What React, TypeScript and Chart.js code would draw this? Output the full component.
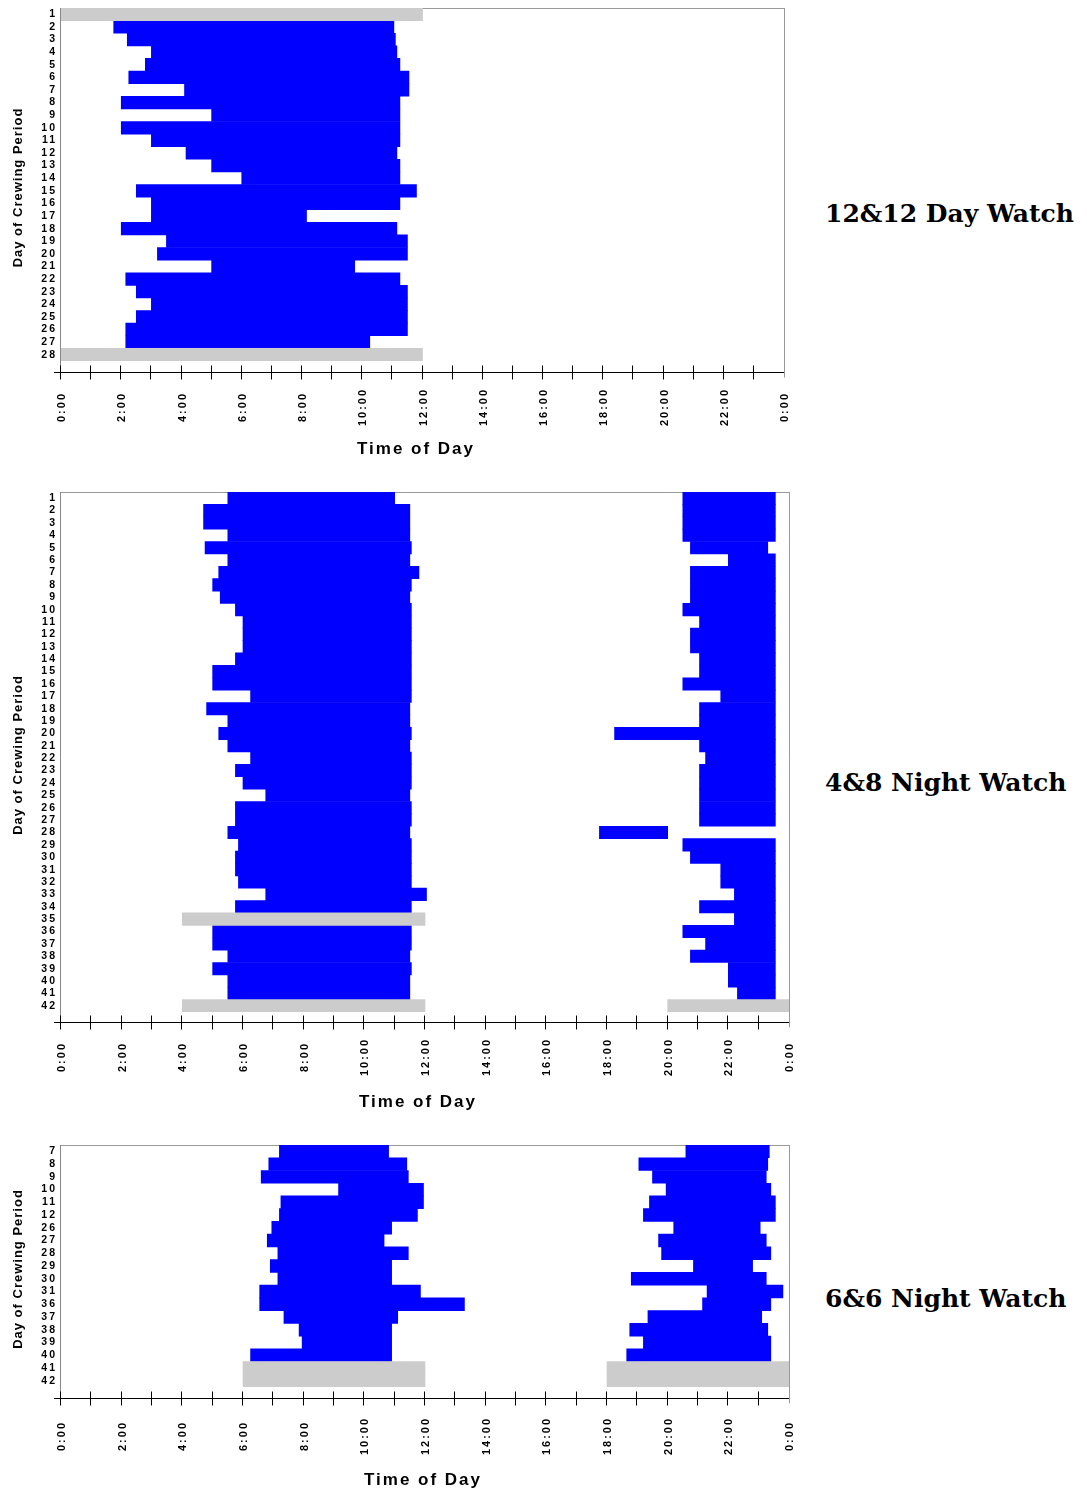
import React, { useEffect, useRef } from "react";
import { Chart, registerables } from "chart.js";

Chart.register(...registerables);

// ---------- shared time axis ----------
const hourTickLabels = ["0:00", "2:00", "4:00", "6:00", "8:00", "10:00", "12:00", "14:00", "16:00", "18:00", "20:00", "22:00", "0:00"];
const HOURS_PER_LABEL = 2;
const crewDayTitle = "Day of Crewing Period";
const timeTitle = "Time of Day";

// ---------- 12&12 Day Watch ----------
const dayRows = ["1", "2", "3", "4", "5", "6", "7", "8", "9", "10", "11", "12", "13", "14", "15", "16", "17", "18", "19", "20", "21", "22", "23", "24", "25", "26", "27", "28"];
const dayOnStart = [null, 1.75, 2.2, 3.0, 2.8, 2.25, 4.1, 2.0, 5.0, 2.0, 3.0, 4.15, 5.0, 6.0, 2.5, 3.0, 3.0, 2.0, 3.5, 3.2, 5.0, 2.15, 2.5, 3.0, 2.5, 2.15, 2.15, null];
const dayOnEnd = [null, 11.05, 11.1, 11.15, 11.25, 11.55, 11.55, 11.25, 11.25, 11.25, 11.25, 11.15, 11.25, 11.25, 11.8, 11.25, 8.15, 11.15, 11.5, 11.5, 9.75, 11.25, 11.5, 11.5, 11.5, 11.5, 10.25, null];
const dayNoRecordRows = ["1", "28"];
const dayNoRecordSpan: [number, number] = [0, 12];

// ---------- 4&8 Night Watch ----------
const n48Rows = ["1", "2", "3", "4", "5", "6", "7", "8", "9", "10", "11", "12", "13", "14", "15", "16", "17", "18", "19", "20", "21", "22", "23", "24", "25", "26", "27", "28", "29", "30", "31", "32", "33", "34", "35", "36", "37", "38", "39", "40", "41", "42"];
const n48AmStart = [5.5, 4.7, 4.7, 5.5, 4.75, 5.5, 5.2, 5.0, 5.25, 5.75, 6.0, 6.0, 6.0, 5.75, 5.0, 5.0, 6.25, 4.8, 5.5, 5.2, 5.5, 6.25, 5.75, 6.0, 6.75, 5.75, 5.75, 5.5, 5.85, 5.75, 5.75, 5.85, 6.75, 5.75, null, 5.0, 5.0, 5.5, 5.0, 5.5, 5.5, null];
const n48AmEnd = [11.0, 11.5, 11.5, 11.5, 11.55, 11.5, 11.8, 11.55, 11.5, 11.55, 11.55, 11.55, 11.55, 11.55, 11.55, 11.55, 11.55, 11.5, 11.5, 11.55, 11.5, 11.55, 11.55, 11.55, 11.5, 11.55, 11.55, 11.5, 11.55, 11.55, 11.55, 11.55, 12.05, 11.55, null, 11.55, 11.55, 11.5, 11.55, 11.5, 11.5, null];
const n48PmStart = [20.5, 20.5, 20.5, 20.5, 20.75, 22.0, 20.75, 20.75, 20.75, 20.5, 21.05, 20.75, 20.75, 21.05, 21.05, 20.5, 21.75, 21.05, 21.05, 18.25, 21.05, 21.25, 21.05, 21.05, 21.05, 21.05, 21.05, 17.75, 20.5, 20.75, 21.75, 21.75, 22.2, 21.05, 22.2, 20.5, 21.25, 20.75, 22.0, 22.0, 22.3, null];
const n48PmEnd = [23.55, 23.55, 23.55, 23.55, 23.3, 23.55, 23.55, 23.55, 23.55, 23.55, 23.55, 23.55, 23.55, 23.55, 23.55, 23.55, 23.55, 23.55, 23.55, 23.55, 23.55, 23.55, 23.55, 23.55, 23.55, 23.55, 23.55, 20.0, 23.55, 23.55, 23.55, 23.55, 23.55, 23.55, 23.55, 23.55, 23.55, 23.55, 23.55, 23.55, 23.55, null];
const n48NoRecordAmRows = ["35", "42"];
const n48NoRecordAmSpan: [number, number] = [4, 12];
const n48NoRecordPmRows = ["42"];
const n48NoRecordPmSpan: [number, number] = [20, 24];

// ---------- 6&6 Night Watch ----------
const n66Rows = ["7", "8", "9", "10", "11", "12", "26", "27", "28", "29", "30", "31", "36", "37", "38", "39", "40", "41", "42"];
const n66AmStart = [7.2, 6.85, 6.6, 9.15, 7.25, 7.2, 6.95, 6.8, 7.15, 6.9, 7.15, 6.55, 6.55, 7.35, 7.85, 7.95, 6.25, null, null];
const n66AmEnd = [10.8, 11.4, 11.45, 11.95, 11.95, 11.75, 10.9, 10.65, 11.45, 10.9, 10.9, 11.85, 13.3, 11.1, 10.9, 10.9, 10.9, null, null];
const n66PmStart = [20.6, 19.05, 19.5, 19.95, 19.4, 19.2, 20.2, 19.7, 19.8, 20.85, 18.8, 21.3, 21.15, 19.35, 18.75, 19.2, 18.65, null, null];
const n66PmEnd = [23.35, 23.3, 23.25, 23.4, 23.55, 23.55, 23.05, 23.25, 23.4, 22.8, 23.25, 23.8, 23.4, 23.1, 23.3, 23.4, 23.4, null, null];
const n66NoRecordRows = ["41", "42"];
const n66NoRecordAmSpan: [number, number] = [6, 12];
const n66NoRecordPmSpan: [number, number] = [18, 24];

const panelTitles = ["12&12 Day Watch", "4&8 Night Watch", "6&6 Night Watch"];

// ---------- helpers ----------
type Cell = [number, number] | null;

function spans(starts: (number | null)[], ends: (number | null)[]): Cell[] {
  return starts.map((s, i) => (s == null || ends[i] == null ? null : [s, ends[i] as number]));
}

function shaded(rows: string[], marked: string[], span: [number, number]): Cell[] {
  return rows.map((r) => (marked.includes(r) ? span : null));
}

const BLUE = "#0000ff";
const GREY = "#cccccc";
const SANS = '"Liberation Sans", Arial, sans-serif';

interface PanelLayout {
  top: number;
  width: number;
  height: number;
  padTop: number;
  padRight: number;
  xAxisHeight: number;
  axisGap: number;
  labelGap: number;
  titleGap: number;
  titleX: number;
}

interface PanelSpec {
  rows: string[];
  blue: Cell[][];
  grey: Cell[][];
  layout: PanelLayout;
}

const panels: PanelSpec[] = [
  {
    rows: dayRows,
    blue: [spans(dayOnStart, dayOnEnd)],
    grey: [shaded(dayRows, dayNoRecordRows, dayNoRecordSpan)],
    layout: { top: -4, width: 800, height: 465, padTop: 12, padRight: 16, xAxisHeight: 100, axisGap: 11, labelGap: 46, titleGap: 88, titleX: 416 },
  },
  {
    rows: n48Rows,
    blue: [spans(n48AmStart, n48AmEnd), spans(n48PmStart, n48PmEnd)],
    grey: [shaded(n48Rows, n48NoRecordAmRows, n48NoRecordAmSpan), shaded(n48Rows, n48NoRecordPmRows, n48NoRecordPmSpan)],
    layout: { top: 480, width: 810, height: 632, padTop: 12, padRight: 21, xAxisHeight: 100, axisGap: 10, labelGap: 45, titleGap: 90, titleX: 418 },
  },
  {
    rows: n66Rows,
    blue: [spans(n66AmStart, n66AmEnd), spans(n66PmStart, n66PmEnd)],
    grey: [shaded(n66Rows, n66NoRecordRows, n66NoRecordAmSpan), shaded(n66Rows, n66NoRecordRows, n66NoRecordPmSpan)],
    layout: { top: 1133, width: 810, height: 357, padTop: 12, padRight: 21, xAxisHeight: 103, axisGap: 11, labelGap: 49, titleGap: 93, titleX: 423 },
  },
];

function makeAxesPlugin(L: PanelLayout) {
  return {
    id: "watchAxes",
    beforeDraw(chart: any) {
      chart.ctx.letterSpacing = "2px";
    },
    beforeDatasetsDraw(chart: any) {
      const { ctx, chartArea: a } = chart;
      const axisY = Math.round(a.bottom + L.axisGap) + 0.5;
      ctx.save();
      ctx.lineWidth = 1;
      ctx.strokeStyle = "#999999";
      ctx.beginPath();
      ctx.moveTo(a.left, Math.round(a.top) + 0.5);
      ctx.lineTo(a.right, Math.round(a.top) + 0.5);
      ctx.moveTo(Math.round(a.right) + 0.5, a.top);
      ctx.lineTo(Math.round(a.right) + 0.5, axisY + 5);
      ctx.stroke();
      ctx.strokeStyle = "#888888";
      ctx.beginPath();
      ctx.moveTo(Math.round(a.left) - 0.5, a.top);
      ctx.lineTo(Math.round(a.left) - 0.5, axisY);
      ctx.stroke();
      ctx.restore();
    },
    afterDraw(chart: any) {
      const { ctx, chartArea: a } = chart;
      const x = chart.scales.x;
      const axisY = Math.round(a.bottom + L.axisGap) + 0.5;
      ctx.save();
      ctx.lineWidth = 1;
      ctx.strokeStyle = "#000000";
      ctx.beginPath();
      ctx.moveTo(a.left - 7, axisY);
      ctx.lineTo(a.right, axisY);
      for (let h = 0; h < 24; h++) {
        const px = Math.round(x.getPixelForValue(h)) - 0.5;
        ctx.moveTo(px, axisY - 7);
        ctx.lineTo(px, axisY + 7);
      }
      ctx.stroke();

      ctx.fillStyle = "#000000";
      ctx.textAlign = "center";
      ctx.textBaseline = "middle";
      ctx.font = `bold 11px ${SANS}`;
      ctx.letterSpacing = "2px";
      hourTickLabels.forEach((lab, i) => {
        const px = x.getPixelForValue(i * HOURS_PER_LABEL);
        ctx.save();
        ctx.translate(px + 1, a.bottom + L.labelGap);
        ctx.rotate(-Math.PI / 2);
        ctx.fillText(lab, 0, 0);
        ctx.restore();
      });

      ctx.font = `bold 13px ${SANS}`;
      ctx.letterSpacing = "1px";
      ctx.save();
      ctx.translate(18, (a.top + a.bottom) / 2 + 3);
      ctx.rotate(-Math.PI / 2);
      ctx.fillText(crewDayTitle, 0, 0);
      ctx.restore();

      ctx.font = `bold 17px ${SANS}`;
      ctx.letterSpacing = "2px";
      ctx.fillText(timeTitle, L.titleX, a.bottom + L.titleGap);
      ctx.restore();
    },
  };
}

function WatchPanel({ spec }: { spec: PanelSpec }) {
  const ref = useRef<HTMLCanvasElement>(null);
  const L = spec.layout;

  useEffect(() => {
    const canvas = ref.current;
    if (!canvas) return;
    const datasets = [
      ...spec.grey.map((d) => ({ data: d as any, backgroundColor: GREY })),
      ...spec.blue.map((d) => ({ data: d as any, backgroundColor: BLUE })),
    ];
    const chart = new Chart(canvas, {
      type: "bar",
      data: { labels: spec.rows, datasets },
      options: {
        indexAxis: "y",
        responsive: false,
        animation: false,
        events: [],
        layout: { padding: { top: L.padTop, right: L.padRight, left: 0, bottom: 0 } },
        datasets: {
          bar: { barPercentage: 1, categoryPercentage: 1, grouped: false, borderWidth: 0 } as any,
        },
        plugins: {
          legend: { display: false },
          tooltip: { enabled: false },
          title: { display: false },
        },
        scales: {
          x: {
            type: "linear",
            min: 0,
            max: 24,
            grid: { display: false, drawTicks: false },
            border: { display: false },
            ticks: { display: false },
            afterFit: (s: any) => {
              s.height = L.xAxisHeight;
            },
          },
          y: {
            type: "category",
            grid: { display: false, drawTicks: false },
            border: { display: false },
            ticks: {
              autoSkip: false,
              padding: 4,
              color: "#000000",
              font: { family: SANS, size: 10.5, weight: "bold" },
            },
            afterFit: (s: any) => {
              s.width = 61;
            },
          },
        },
      },
      plugins: [makeAxesPlugin(L)],
    });
    return () => chart.destroy();
  }, [spec]);

  return (
    <canvas
      ref={ref}
      width={L.width}
      height={L.height}
      style={{ position: "absolute", left: 0, top: L.top, width: L.width, height: L.height }}
    />
  );
}

const titleTops = [201, 770, 1286];

export default function App() {
  return (
    <div style={{ position: "absolute", left: 0, top: 0, width: 1087, height: 1494, background: "#ffffff", overflow: "hidden" }}>
      {panels.map((p, i) => (
        <WatchPanel key={i} spec={p} />
      ))}
      {panelTitles.map((t, i) => (
        <div
          key={t}
          style={{
            position: "absolute",
            left: 825,
            top: titleTops[i],
            font: 'bold 25px "DejaVu Serif", serif',
            lineHeight: "25px",
            whiteSpace: "nowrap",
            color: "#000000",
          }}
        >
          {t}
        </div>
      ))}
    </div>
  );
}
